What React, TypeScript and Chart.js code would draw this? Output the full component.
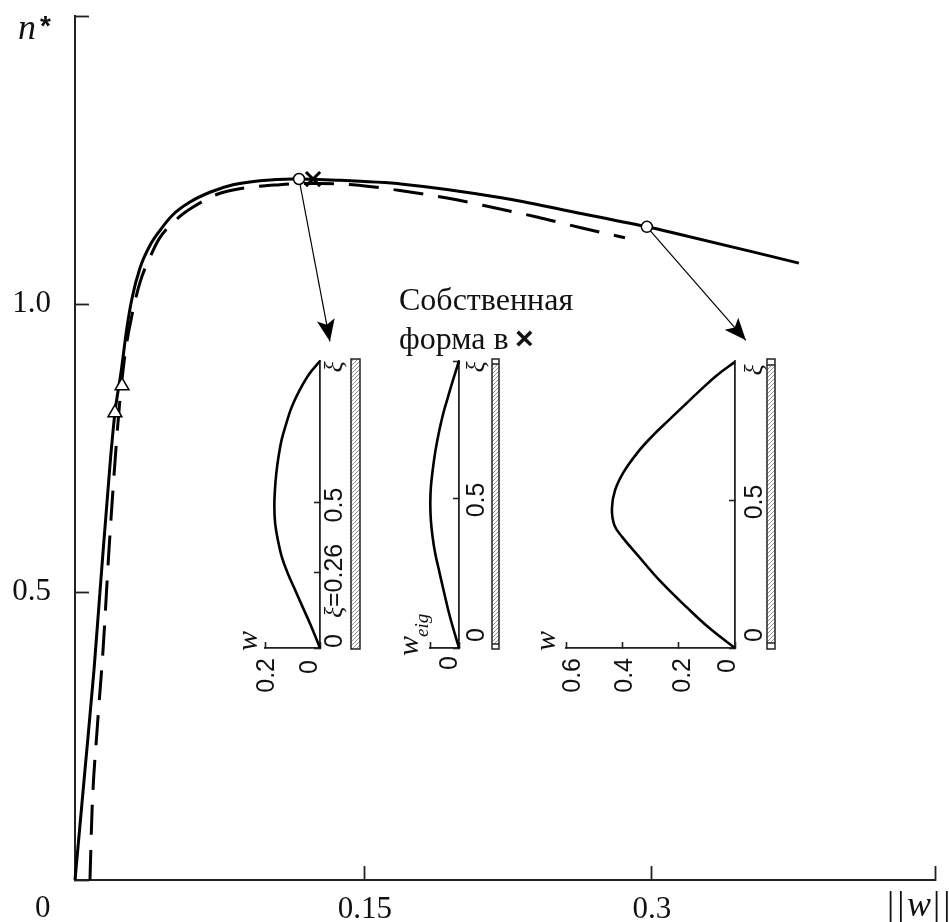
import React, { useEffect, useRef } from "react";
import { Chart, registerables } from "chart.js";

Chart.register(...registerables);

const SERIF = '"Liberation Serif", serif';
const SANS = '"Liberation Sans", sans-serif';
const INK = "#111";

// ---- main chart data ----
const solidX = [0, 0.0052, 0.0099, 0.013, 0.0182, 0.0208, 0.024, 0.0271, 0.0297, 0.0339, 0.0391, 0.0443, 0.051, 0.0599, 0.0703, 0.0823, 0.0964, 0.1135, 0.1365, 0.1708, 0.2229, 0.2578, 0.2979, 0.3099, 0.3771];
const solidY = [0, 0.191, 0.365, 0.5, 0.72, 0.811, 0.882, 0.96, 1.01, 1.063, 1.102, 1.128, 1.155, 1.177, 1.194, 1.207, 1.214, 1.217, 1.215, 1.208, 1.184, 1.161, 1.134, 1.125, 1.071];
const dashedX = [0.0078, 0.0089, 0.0115, 0.0146, 0.0177, 0.0214, 0.0234, 0.026, 0.0297, 0.0339, 0.0396, 0.0438, 0.0536, 0.0609, 0.0745, 0.0823, 0.0979, 0.1068, 0.1156, 0.1276, 0.1448, 0.1693, 0.1938, 0.2172, 0.2406, 0.2641, 0.2865];
const dashedY = [0, 0.122, 0.26, 0.399, 0.573, 0.752, 0.833, 0.911, 0.981, 1.038, 1.085, 1.113, 1.149, 1.167, 1.191, 1.198, 1.205, 1.207, 1.209, 1.209, 1.207, 1.197, 1.184, 1.168, 1.151, 1.132, 1.115];
const circleX = [0.1167, 0.2979];
const circleY = [1.217, 1.134];
const crossX = [0.124];
const crossY = [1.217];
const triangleX = [0.0208, 0.0245];
const triangleY = [0.811, 0.858];
const arrow1X = [0.1167, 0.1328];
const arrow1Y = [1.217, 0.935];
const arrow2X = [0.2979, 0.3495];
const arrow2Y = [1.134, 0.937];
const xTickValues = [0, 0.151, 0.3005, 0.448];
const xTickLabels = ["", "0.15", "0.3", ""];
const yTickValues = [0, 0.5, 1, 1.5];
const yTickLabels = ["", "0.5", "1.0", ""];

// ---- inset data ----
const shape1W = [0, 0.038, 0.074, 0.103, 0.123, 0.14, 0.151, 0.159, 0.164, 0.166, 0.163, 0.153, 0.139, 0.117, 0.09, 0.063, 0.036, 0];
const shape1Xi = [0.983, 0.94, 0.883, 0.825, 0.768, 0.711, 0.654, 0.597, 0.54, 0.483, 0.426, 0.369, 0.312, 0.255, 0.198, 0.14, 0.083, 0];
const shape2W = [0, 0.021, 0.038, 0.053, 0.068, 0.081, 0.09, 0.097, 0.099, 0.097, 0.091, 0.082, 0.069, 0.053, 0.031, 0];
const shape2Xi = [0.963, 0.898, 0.842, 0.792, 0.73, 0.663, 0.602, 0.54, 0.484, 0.428, 0.372, 0.317, 0.261, 0.193, 0.104, 0];
const shape3W = [0, 0.065, 0.124, 0.18, 0.236, 0.291, 0.344, 0.395, 0.426, 0.437, 0.428, 0.4, 0.345, 0.266, 0.172, 0.089, 0];
const shape3Xi = [0.973, 0.927, 0.876, 0.825, 0.774, 0.723, 0.667, 0.599, 0.536, 0.474, 0.417, 0.377, 0.315, 0.228, 0.139, 0.066, 0];
const wTicks1 = [0, 0.2];
const wTicks2 = [0, 0.1];
const wTicks3 = [0, 0.2, 0.4, 0.6];
const xiTicks1 = [0, 0.26, 0.5];
const xiTicks2 = [0, 0.5, 0.963];
const xiTicks3 = [0, 0.5];

const zip = (xs: number[], ys: number[]) => xs.map((x, i) => ({ x, y: ys[i] }));

function rotText(ctx: CanvasRenderingContext2D, text: string, x: number, y: number, font: string, align: CanvasTextAlign = "center") {
  ctx.save();
  ctx.translate(x, y);
  ctx.rotate(-Math.PI / 2);
  ctx.font = font;
  ctx.fillStyle = INK;
  ctx.textAlign = align;
  ctx.textBaseline = "middle";
  ctx.fillText(text, 0, 0);
  ctx.restore();
}

function drawArrowHead(ctx: CanvasRenderingContext2D, fx: number, fy: number, tx: number, ty: number) {
  const a = Math.atan2(ty - fy, tx - fx);
  ctx.save();
  ctx.translate(tx, ty);
  ctx.rotate(a);
  ctx.fillStyle = "#000";
  ctx.beginPath();
  ctx.moveTo(0, 0);
  ctx.lineTo(-22, -9);
  ctx.lineTo(-17, 0);
  ctx.lineTo(-22, 9);
  ctx.closePath();
  ctx.fill();
  ctx.restore();
}

const mainPlugin = {
  id: "mainExtras",
  afterDatasetsDraw(chart: any) {
    const { ctx, scales } = chart;
    const px = (v: number) => scales.x.getPixelForValue(v);
    const py = (v: number) => scales.y.getPixelForValue(v);
    drawArrowHead(ctx, px(arrow1X[0]), py(arrow1Y[0]), px(arrow1X[1]), py(arrow1Y[1]));
    drawArrowHead(ctx, px(arrow2X[0]), py(arrow2Y[0]), px(arrow2X[1]), py(arrow2Y[1]));
  },
  afterDraw(chart: any) {
    const { ctx } = chart;
    ctx.save();
    ctx.fillStyle = INK;
    ctx.textBaseline = "alphabetic";
    ctx.textAlign = "left";
    ctx.font = `31px ${SERIF}`;
    ctx.fillText("0", 35, 917);
    ctx.font = `32px ${SERIF}`;
    ctx.fillText("Собственная", 399, 310);
    ctx.fillText("форма в", 399, 349);
    ctx.font = `bold 32px ${SANS}`;
    ctx.fillText("×", 515, 349);
    ctx.font = `italic 36px ${SERIF}`;
    ctx.fillText("n", 18, 39);
    ctx.font = `bold 28px ${SANS}`;
    ctx.fillText("*", 40, 35);
    ctx.font = `36px ${SERIF}`;
    ctx.letterSpacing = "3px";
    ctx.fillText("||", 887, 916);
    ctx.fillText("||", 933, 916);
    ctx.letterSpacing = "0px";
    ctx.font = `italic 36px ${SERIF}`;
    ctx.fillText("w", 907, 916);
    ctx.restore();
  },
};

type Axes = { X: (v: number) => number; Y: (v: number) => number; R: number };
type Inset = {
  left: number; width: number; areaW: number;
  w: number[]; xi: number[]; wMax: number; xiMax: number; wTicks: number[]; xiTicks: number[];
  draw: (ctx: CanvasRenderingContext2D, a: Axes) => void;
  barFrom: number; barTo: number; cap: number;
};

const INSET_TOP = 350;
const digit = `25px ${SANS}`;
const xiFont = `italic 26px ${SERIF}`;
const labelW = `italic 30px ${SERIF}`;

const insets: Inset[] = [
  {
    left: 235, width: 135, areaW: 55, w: shape1W, xi: shape1Xi, wMax: 0.2, xiMax: 0.983, wTicks: wTicks1, xiTicks: xiTicks1,
    barFrom: 31, barTo: 40, cap: 0,
    draw(ctx, { X, Y, R }) {
      rotText(ctx, "0", X(0) - 10, 660, digit, "right");
      rotText(ctx, "0.2", X(0.2) + 2, 658, digit, "right");
      rotText(ctx, "w", 249, 641, labelW);
      const x = R + 15;
      rotText(ctx, "0", x, Y(0), digit, "left");
      rotText(ctx, "0.5", x, Y(0.5) + 3, digit);
      rotText(ctx, "ξ", x, 618, xiFont, "left");
      rotText(ctx, "=0.26", x, 607, digit, "left");
      rotText(ctx, "ξ", x, 367, xiFont);
    },
  },
  {
    left: 400, width: 139, areaW: 29, w: shape2W, xi: shape2Xi, wMax: 0.1, xiMax: 0.963, wTicks: wTicks2, xiTicks: xiTicks2,
    barFrom: 33, barTo: 40, cap: 5,
    draw(ctx, { X, Y, R }) {
      rotText(ctx, "0", X(0) - 9, 656, digit, "right");
      rotText(ctx, "w", 410, 646, labelW);
      rotText(ctx, "eig", 423, 637, `italic 19px ${SERIF}`, "left");
      const x = R + 18;
      rotText(ctx, "0", x, Y(0) - 6, digit, "left");
      rotText(ctx, "0.5", x, Y(0.5) + 1, digit);
      rotText(ctx, "ξ", x, 367, xiFont);
    },
  },
  {
    left: 536, width: 249, areaW: 169, w: shape3W, xi: shape3Xi, wMax: 0.6, xiMax: 0.976, wTicks: wTicks3, xiTicks: xiTicks3,
    barFrom: 32, barTo: 40, cap: 6,
    draw(ctx, { X, Y, R }) {
      rotText(ctx, "0", X(0) - 7, 659, digit, "right");
      rotText(ctx, "0.2", X(0.2) + 4, 658, digit, "right");
      rotText(ctx, "0.4", X(0.4) + 3, 658, digit, "right");
      rotText(ctx, "0.6", X(0.6) + 7, 658, digit, "right");
      rotText(ctx, "w", 547, 641, labelW);
      const x = R + 20;
      rotText(ctx, "0", x, Y(0) - 6, digit, "left");
      rotText(ctx, "0.5", x, Y(0.5) + 1, digit);
      rotText(ctx, "ξ", x, 370, xiFont);
    },
  },
];

function drawBeam(ctx: CanvasRenderingContext2D, x0: number, x1: number, y0: number, y1: number, cap: number) {
  ctx.save();
  ctx.beginPath();
  ctx.rect(x0, y0 + cap, x1 - x0, y1 - y0 - 2 * cap);
  ctx.clip();
  ctx.strokeStyle = "#777";
  ctx.lineWidth = 0.8;
  ctx.beginPath();
  for (let y = y0; y < y1 + 20; y += 4) {
    ctx.moveTo(x0 - 1, y);
    ctx.lineTo(x1 + 1, y - (x1 - x0 + 2));
  }
  ctx.stroke();
  ctx.restore();
  ctx.strokeStyle = "#222";
  ctx.lineWidth = 1.5;
  ctx.strokeRect(x0, y0, x1 - x0, y1 - y0);
  if (cap) {
    ctx.beginPath();
    ctx.moveTo(x0, y0 + cap);
    ctx.lineTo(x1, y0 + cap);
    ctx.moveTo(x0, y1 - cap);
    ctx.lineTo(x1, y1 - cap);
    ctx.stroke();
  }
}

const noPadding = (s: any) => {
  s.paddingLeft = 0;
  s.paddingRight = 0;
  s.paddingTop = 0;
  s.paddingBottom = 0;
};

function makeInset(canvas: HTMLCanvasElement, cfg: Inset) {
  const paddingLeft = 30;
  const paddingTop = 11;
  return new Chart(canvas, {
    type: "line",
    data: {
      datasets: [
        {
          data: zip(cfg.w, cfg.xi),
          borderColor: "#000",
          borderWidth: 2.6,
          pointRadius: 0,
          tension: 0.4,
          capBezierPoints: false,
          fill: false,
          clip: false,
        } as any,
      ],
    },
    options: {
      responsive: false,
      animation: false,
      events: [],
      layout: { padding: { left: paddingLeft, top: paddingTop, right: 0, bottom: 0 } },
      plugins: { legend: { display: false }, tooltip: { enabled: false } },
      scales: {
        x: {
          type: "linear",
          reverse: true,
          min: 0,
          max: cfg.wMax,
          afterBuildTicks: (s: any) => {
            s.ticks = cfg.wTicks.map((value) => ({ value }));
          },
          afterFit: (s: any) => {
            s.height = 52;
            noPadding(s);
          },
          ticks: { display: false, autoSkip: false },
          grid: { drawOnChartArea: false, drawTicks: true, tickLength: -6, tickColor: "#222", tickWidth: 1.6 },
          border: { display: true, color: "#222", width: 1.8 },
        },
        y: {
          type: "linear",
          position: "right",
          min: 0,
          max: cfg.xiMax,
          afterBuildTicks: (s: any) => {
            s.ticks = cfg.xiTicks.map((value) => ({ value }));
          },
          afterFit: (s: any) => {
            s.width = cfg.width - paddingLeft - cfg.areaW;
            noPadding(s);
          },
          ticks: { display: false, autoSkip: false },
          grid: { drawOnChartArea: false, drawTicks: true, tickLength: -6, tickColor: "#222", tickWidth: 1.6 },
          border: { display: true, color: "#222", width: 1.8 },
        },
      },
    } as any,
    plugins: [
      {
        id: "insetExtras",
        afterDraw(chart: any) {
          const { ctx, scales } = chart;
          const sx = scales.x;
          const sy = scales.y;
          ctx.save();
          ctx.translate(-cfg.left, -INSET_TOP);
          const R = sx.right + cfg.left;
          cfg.draw(ctx, {
            X: (v) => sx.getPixelForValue(v) + cfg.left,
            Y: (v) => sy.getPixelForValue(v) + INSET_TOP,
            R,
          });
          drawBeam(ctx, R + cfg.barFrom, R + cfg.barTo, sy.top + INSET_TOP - 2, sy.bottom + INSET_TOP + 1, cfg.cap);
          ctx.restore();
        },
      },
    ],
  });
}

function makeMain(canvas: HTMLCanvasElement) {
  const line = { pointRadius: 0, fill: false, clip: false, showLine: true };
  return new Chart(canvas, {
    type: "line",
    data: {
      datasets: [
        {
          data: zip(circleX, circleY),
          showLine: false,
          pointStyle: "circle",
          pointRadius: 5.5,
          pointBackgroundColor: "#fff",
          pointBorderColor: "#000",
          pointBorderWidth: 1.5,
          clip: false,
        },
        {
          data: zip(triangleX, triangleY),
          showLine: false,
          pointStyle: "triangle",
          pointRadius: 8,
          pointBackgroundColor: "#fff",
          pointBorderColor: "#000",
          pointBorderWidth: 1.5,
          clip: false,
        },
        {
          data: zip(crossX, crossY),
          showLine: false,
          pointStyle: "crossRot",
          pointRadius: 10,
          pointBorderColor: "#000",
          pointBorderWidth: 3,
          clip: false,
        },
        { ...line, data: zip(arrow1X, arrow1Y), borderColor: "#000", borderWidth: 1.2 },
        { ...line, data: zip(arrow2X, arrow2Y), borderColor: "#000", borderWidth: 1.2 },
        { ...line, data: zip(solidX, solidY), borderColor: "#000", borderWidth: 3, cubicInterpolationMode: "monotone", capBezierPoints: false },
        { ...line, data: zip(dashedX, dashedY), borderColor: "#000", borderWidth: 3, borderDash: [30, 15], cubicInterpolationMode: "monotone", capBezierPoints: false },
      ] as any,
    },
    options: {
      responsive: false,
      animation: false,
      events: [],
      layout: { padding: { left: 0, top: 16, right: 14, bottom: 0 } },
      plugins: { legend: { display: false }, tooltip: { enabled: false } },
      scales: {
        x: {
          type: "linear",
          min: 0,
          max: 0.448,
          afterBuildTicks: (s: any) => {
            s.ticks = xTickValues.map((value) => ({ value }));
          },
          afterFit: (s: any) => {
            s.height = 42;
            noPadding(s);
          },
          ticks: {
            autoSkip: false,
            maxRotation: 0,
            minRotation: 0,
            padding: 25,
            color: INK,
            font: { family: "Liberation Serif", size: 31 },
            callback: (v: number) => xTickLabels[xTickValues.indexOf(v)] ?? "",
          },
          grid: { drawOnChartArea: false, drawTicks: true, tickLength: -14, tickColor: "#222", tickWidth: 1.8 },
          border: { display: true, color: "#222", width: 2 },
        },
        y: {
          type: "linear",
          min: 0,
          max: 1.5,
          afterBuildTicks: (s: any) => {
            s.ticks = yTickValues.map((value) => ({ value }));
          },
          afterFit: (s: any) => {
            s.width = 75;
            noPadding(s);
          },
          ticks: {
            autoSkip: false,
            padding: 38,
            color: INK,
            font: { family: "Liberation Serif", size: 31 },
            callback: (v: number) => yTickLabels[yTickValues.indexOf(v)] ?? "",
          },
          grid: { drawOnChartArea: false, drawTicks: true, tickLength: -14, tickColor: "#222", tickWidth: 1.8 },
          border: { display: true, color: "#222", width: 2 },
        },
      },
    } as any,
    plugins: [mainPlugin],
  });
}

export default function App() {
  const mainRef = useRef<HTMLCanvasElement | null>(null);
  const insetRefs = useRef<(HTMLCanvasElement | null)[]>([]);

  useEffect(() => {
    const charts: Chart[] = [];
    if (mainRef.current) charts.push(makeMain(mainRef.current));
    insets.forEach((cfg, i) => {
      const c = insetRefs.current[i];
      if (c) charts.push(makeInset(c, cfg));
    });
    return () => charts.forEach((c) => c.destroy());
  }, []);

  return (
    <div style={{ position: "absolute", left: 0, top: 0, width: 949, height: 922, background: "#fff", overflow: "hidden" }}>
      <canvas ref={mainRef} width={949} height={922} style={{ position: "absolute", left: 0, top: 0 }} />
      {insets.map((cfg, i) => (
        <canvas
          key={i}
          ref={(el) => {
            insetRefs.current[i] = el;
          }}
          width={cfg.width}
          height={INSET_TOP}
          style={{ position: "absolute", left: cfg.left, top: INSET_TOP }}
        />
      ))}
    </div>
  );
}
